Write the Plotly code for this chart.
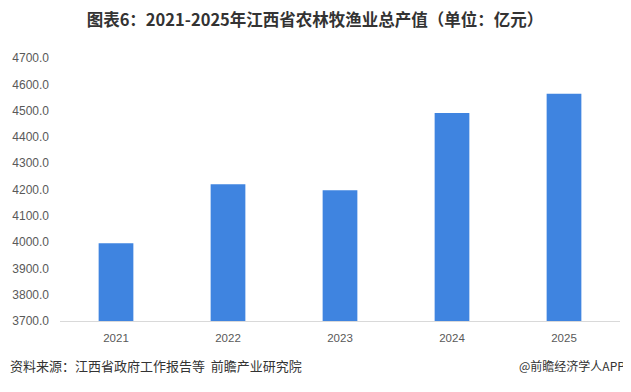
import plotly.graph_objects as go

years = ["2021", "2022", "2023", "2024", "2025"]
values = [3996, 4220, 4197, 4491, 4564]
y_ticks = [3700, 3800, 3900, 4000, 4100, 4200, 4300, 4400, 4500, 4600, 4700]
y_tick_labels = [f"{v:.1f}" for v in y_ticks]

title_text = "图表6：2021-2025年江西省农林牧渔业总产值（单位：亿元）"
source_text = "资料来源：江西省政府工作报告等  前瞻产业研究院"
brand_text = "@前瞻经济学人APP"

font_cjk = "Noto Sans CJK SC, Microsoft YaHei, sans-serif"

# page body has an 8px margin, so the figure is sized to fit the window
W, H = 623, 384
L, R, T, B = 52, 11, 50, 71
plot_w = W - L - R
plot_h = H - T - B

fig = go.Figure(go.Bar(
    x=years, y=values,
    marker=dict(color="#3F84E0", line=dict(width=0)),
    hoverinfo="x+y",
))

foot_y = -(357 - (H - B)) / plot_h

fig.update_layout(
    width=W, height=H,
    margin=dict(l=L, r=R, t=T, b=B, autoexpand=False),
    paper_bgcolor="white", plot_bgcolor="white",
    bargap=0.69,
    showlegend=False,
    font=dict(family=font_cjk, color="#595959", size=11),
    title=dict(
        text="<b>" + title_text + "</b>",
        x=307 / W, xanchor="center", y=1 - 12 / H, yanchor="middle",
        font=dict(size=16.5, color="#333333", family=font_cjk),
    ),
    xaxis=dict(
        showgrid=False, showline=True, linecolor="#d9d9d9", linewidth=1,
        ticks="", ticklabelstandoff=6, automargin=False,
        tickfont=dict(size=11.5, color="#595959", family="Liberation Sans, Arial"),
        fixedrange=True,
    ),
    yaxis=dict(
        range=[3700, 4700], showgrid=False, showline=False, zeroline=False,
        tickvals=y_ticks, ticktext=y_tick_labels, ticks="", ticklabelstandoff=10,
        automargin=False,
        tickfont=dict(size=12, color="#595959", family="Liberation Sans, Arial"),
        fixedrange=True,
    ),
    annotations=[
        dict(text=source_text, xref="paper", yref="paper", x=-L / plot_w, y=foot_y,
             xanchor="left", yanchor="middle", showarrow=False,
             font=dict(size=13, color="#333333", family=font_cjk)),
        dict(text=brand_text, xref="paper", yref="paper", x=(619 - L) / plot_w, y=foot_y,
             xanchor="right", yanchor="middle", showarrow=False,
             font=dict(size=12, color="#333333", family=font_cjk)),
    ],
)

fig.write_html("out.html")
